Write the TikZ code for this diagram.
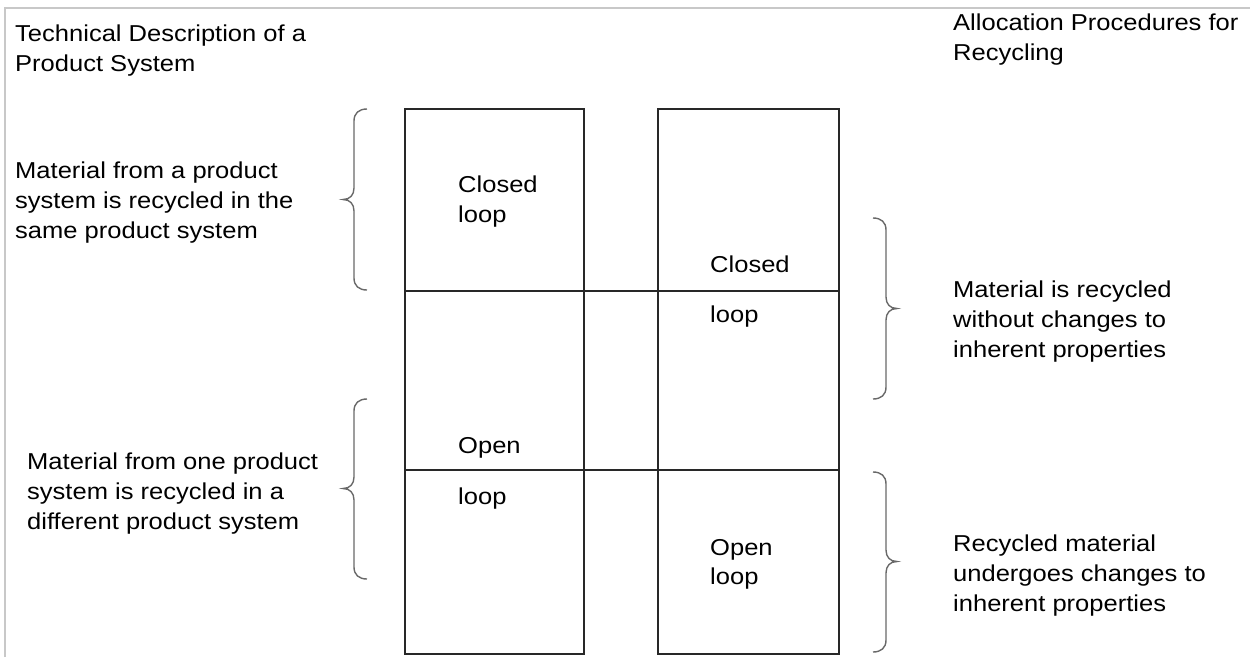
\documentclass[tikz,border=0pt]{standalone}
\usepackage{fontspec}
\setmainfont{Liberation Sans}[FakeStretch=1.11]
\definecolor{boxline}{RGB}{40,40,40}
\definecolor{bracegray}{RGB}{105,105,105}
\definecolor{framegray}{RGB}{200,200,200}
\begin{document}
% multi-line labels are placed by the baseline of their last line
\begin{tikzpicture}[x=1pt,y=-1pt,
  txt/.style={anchor=base west, inner sep=0pt, align=left,
    font=\fontsize{23}{30}\selectfont, text=black},
  cell/.style={draw=boxline, line width=1.6pt, anchor=north west,
    inner sep=0pt, minimum height=545pt},
  divider/.style={draw=boxline, line width=1.6pt},
  bracepath/.style={draw=bracegray, line width=1.4pt},
  framepath/.style={draw=framegray, line width=1.6pt}]
\useasboundingbox (0,0) rectangle (1250,657);

% outer frame (top and left edges only)
\draw[framepath] (5,657) -- (5,8) -- (1250,8);

% the two columns
\node[cell, minimum width=179pt] (lbox) at (404,108) {};
\node[cell, minimum width=181pt] (rbox) at (657,108) {};

% horizontal dividers across both columns
\coordinate (d1) at (0,291);
\coordinate (d2) at (0,470);
\draw[divider] (lbox.west |- d1) -- (rbox.east |- d1);
\draw[divider] (lbox.west |- d2) -- (rbox.east |- d2);

% headings
\node[txt, font=\fontsize{23}{29.5}\selectfont] (hleft) at (15,71)
  {Technical Description of a\\Product System};
\node[txt] (hright) at (953,60.5)
  {Allocation Procedures for\\Recycling};

% cell labels
\node[txt] (lclosed) at (458,222) {Closed\\loop};
\node[txt] (rclosed) at (710,272) {Closed};
\node[txt] (rclosedb) at (710,322) {loop};
\node[txt] (lopen) at (458,453) {Open};
\node[txt] (lopenb) at (458,504) {loop};
\node[txt, font=\fontsize{23}{29.5}\selectfont] (ropen) at (710,584.5) {Open\\loop};

% left descriptions
\node[txt] (same) at (15,238) {Material from a product\\system is recycled in the\\same product system};
\node[txt] (diff) at (27,529) {Material from one product\\system is recycled in a\\different product system};

% right descriptions
\node[txt] (nochange) at (953,357) {Material is recycled\\without changes to\\inherent properties};
\node[txt] (change) at (953,611) {Recycled material\\undergoes changes to\\inherent properties};

% left braces
\draw[bracepath] (367,109) .. controls (359,109) and (354,113) .. (354,121)
  -- (354,188) .. controls (354,195) and (350,199.5) .. (343,199.5)
  .. controls (350,199.5) and (354,204) .. (354,211)
  -- (354,278) .. controls (354,286) and (359,290) .. (367,290);
\draw[bracepath] (367,399) .. controls (359,399) and (354,403) .. (354,411)
  -- (354,477) .. controls (354,484) and (350,488.5) .. (343,488.5)
  .. controls (350,488.5) and (354,493) .. (354,500)
  -- (354,567) .. controls (354,575) and (359,579) .. (367,579);

% right braces
\draw[bracepath] (873,218) .. controls (881,218) and (886,222) .. (886,230)
  -- (886,297) .. controls (886,304) and (890,308.5) .. (897,308.5)
  .. controls (890,308.5) and (886,313) .. (886,320)
  -- (886,387) .. controls (886,395) and (881,399) .. (873,399);
\draw[bracepath] (873,472) .. controls (881,472) and (886,476) .. (886,484)
  -- (886,550) .. controls (886,557) and (890,561.5) .. (897,561.5)
  .. controls (890,561.5) and (886,566) .. (886,573)
  -- (886,640) .. controls (886,648) and (881,652) .. (873,652);
\end{tikzpicture}
\end{document}
